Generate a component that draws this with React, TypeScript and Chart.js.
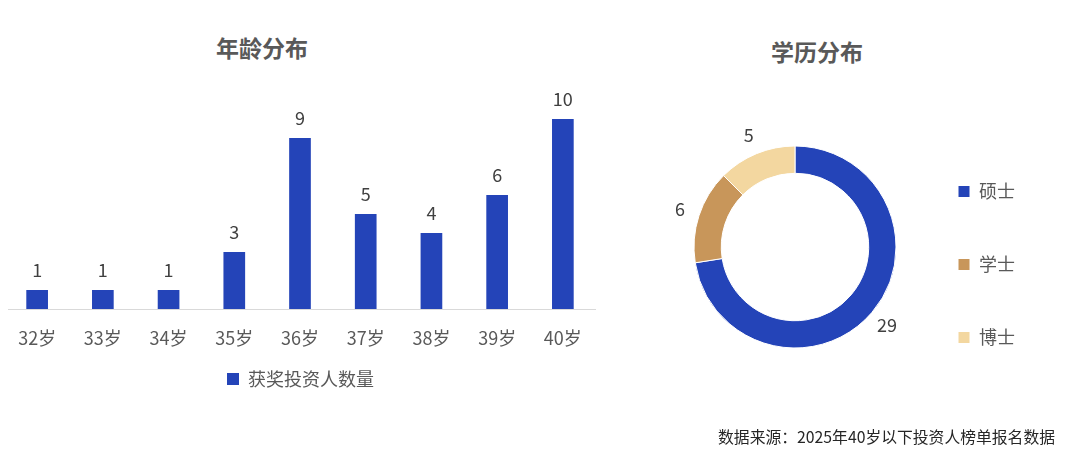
import Chart from "chart.js/auto";
import { useEffect, useRef } from "react";

const ageLabels = ["32岁", "33岁", "34岁", "35岁", "36岁", "37岁", "38岁", "39岁", "40岁"];
const ageCounts = [1, 1, 1, 3, 9, 5, 4, 6, 10];
const ageSeriesName = "获奖投资人数量";

const degreeLabels = ["硕士", "学士", "博士"];
const degreeCounts = [29, 6, 5];

const FONT = "'Noto Sans CJK SC', 'Noto Sans', sans-serif";
const BLUE = "#2444B8";
const degreeColors = [BLUE, "#C8965A", "#F3D7A0"];

// value labels above the bars
const barLabels = {
  id: "barLabels",
  afterDraw(chart: any) {
    const ctx = chart.ctx;
    const meta = chart.getDatasetMeta(0);
    ctx.save();
    ctx.font = `18px ${FONT}`;
    ctx.fillStyle = "#404040";
    ctx.textAlign = "center";
    ctx.textBaseline = "middle";
    meta.data.forEach((bar: any, i: number) => {
      ctx.fillText(String(chart.data.datasets[0].data[i]), bar.x, bar.y - 20);
    });
    ctx.restore();
  },
};

// value labels outside the ring
const ringLabels = {
  id: "ringLabels",
  afterDraw(chart: any) {
    const ctx = chart.ctx;
    const meta = chart.getDatasetMeta(0);
    ctx.save();
    ctx.font = `18px ${FONT}`;
    ctx.fillStyle = "#404040";
    ctx.textAlign = "center";
    ctx.textBaseline = "middle";
    meta.data.forEach((arc: any, i: number) => {
      const { x, y, startAngle, endAngle, outerRadius } = arc.getProps(
        ["x", "y", "startAngle", "endAngle", "outerRadius"],
        true
      );
      const mid = (startAngle + endAngle) / 2;
      const r = outerRadius + 20;
      ctx.fillText(
        String(chart.data.datasets[0].data[i]),
        x + Math.cos(mid) * r,
        y + Math.sin(mid) * r
      );
    });
    ctx.restore();
  },
};

function AgeChart() {
  const ref = useRef<HTMLCanvasElement>(null);

  useEffect(() => {
    const el = ref.current;
    if (!el) return;
    const chart = new Chart(el, {
      type: "bar",
      data: {
        labels: ageLabels,
        datasets: [{
          label: ageSeriesName,
          data: ageCounts,
          backgroundColor: BLUE,
          barPercentage: 0.33,
          categoryPercentage: 1,
        }],
      },
      options: {
        responsive: false,
        animation: false,
        layout: { padding: { top: 20, left: 4, right: 3, bottom: 0 } },
        plugins: {
          legend: {
            position: "bottom",
            labels: {
              font: { size: 18, family: FONT },
              color: "#595959",
              boxWidth: 12,
              boxHeight: 12,
              padding: 3.4,
            },
          },
          tooltip: { enabled: false },
        },
        scales: {
          x: {
            grid: { display: false, drawTicks: false },
            border: { display: true, color: "#D9D9D9", width: 1 },
            ticks: { font: { size: 18, family: FONT }, color: "#595959", padding: 18 },
          },
          y: { display: false, min: 0, max: 11 },
        },
      },
      plugins: [barLabels],
    });
    return () => chart.destroy();
  }, []);

  return (
    <canvas
      ref={ref}
      width={600}
      height={318}
      style={{ position: "absolute", left: 0, top: 80, width: 600, height: 318 }}
    />
  );
}

function DegreeChart() {
  const ref = useRef<HTMLCanvasElement>(null);

  useEffect(() => {
    const el = ref.current;
    if (!el) return;
    const chart = new Chart(el, {
      type: "doughnut",
      data: {
        labels: degreeLabels,
        datasets: [{
          data: degreeCounts,
          backgroundColor: degreeColors,
          borderColor: "#FFFFFF",
          borderWidth: 1,
          radius: 101,
          cutout: "73%",
        }],
      },
      options: {
        responsive: false,
        animation: false,
        layout: { padding: { left: 70, right: 0, top: 0, bottom: 0 } },
        plugins: {
          legend: {
            position: "right",
            title: { display: true, text: "", font: { size: 10 }, padding: { top: 0, bottom: 23 } },
            labels: {
              font: { size: 18, family: FONT },
              color: "#595959",
              boxWidth: 12,
              boxHeight: 12,
              padding: 55,
            },
          },
          tooltip: { enabled: false },
        },
      },
      plugins: [ringLabels],
    });
    return () => chart.destroy();
  }, []);

  return (
    <canvas
      ref={ref}
      width={408}
      height={360}
      style={{ position: "absolute", left: 617, top: 67, width: 408, height: 360 }}
    />
  );
}

export default function App() {
  const titleStyle = {
    position: "absolute" as const,
    fontFamily: FONT,
    fontSize: 23,
    fontWeight: 700,
    lineHeight: "23px",
    color: "#595959",
    width: 200,
    textAlign: "center" as const,
    whiteSpace: "nowrap" as const,
  };
  return (
    <div style={{ position: "relative", width: 1080, height: 473, margin: -8, background: "#fff" }}>
      <div style={{ ...titleStyle, left: 162, top: 36 }}>年龄分布</div>
      <div style={{ ...titleStyle, left: 717, top: 40 }}>学历分布</div>
      <AgeChart />
      <DegreeChart />
      <div
        style={{
          position: "absolute",
          right: 25,
          top: 429,
          fontFamily: FONT,
          fontSize: 15.8,
          lineHeight: "16px",
          color: "#262626",
          whiteSpace: "nowrap",
        }}
      >
        数据来源：2025年40岁以下投资人榜单报名数据
      </div>
    </div>
  );
}
